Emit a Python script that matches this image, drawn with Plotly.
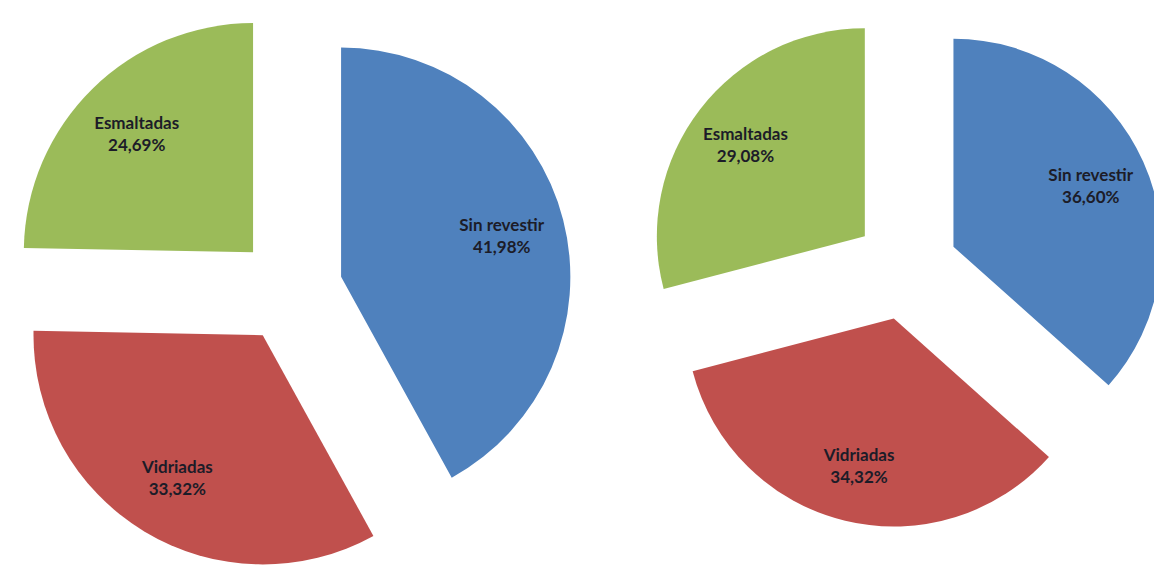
import plotly.graph_objects as go

# categories and shares (%) for the two pies
labels = ["Sin revestir", "Vidriadas", "Esmaltadas"]
left_values = [41.98, 33.32, 24.69]
right_values = [36.60, 34.32, 29.08]
colors = ["#4F81BD", "#C0504D", "#9BBB59"]


def pct(v):
    return f"{v:.2f}".replace(".", ",") + "%"


def make_text(vals):
    return [f"{lab}<br>{pct(v)}" for lab, v in zip(labels, vals)]


font = dict(family="Lato", size=17, color="#1c1c28", weight="bold")

# (values, pull, domain)
pies = [
    (left_values, 0.23, dict(x=[0, 0.4854], y=[0.0053, 1])),
    (right_values, 0.25, dict(x=[0.549, 0.9966], y=[0.083, 1])),
]

fig = go.Figure()
for vals, pull, dom in pies:
    # coloured slices
    fig.add_trace(go.Pie(
        labels=labels, values=vals, textinfo="none",
        sort=False, direction="clockwise", rotation=0, pull=pull,
        marker=dict(colors=colors, line=dict(width=0)),
        domain=dom, hoverinfo="skip",
    ))
    # transparent ring on top, only to carry the labels toward the rim
    fig.add_trace(go.Pie(
        labels=labels, values=vals, text=make_text(vals), hole=0.45,
        textinfo="text", textposition="inside", insidetextorientation="horizontal",
        sort=False, direction="clockwise", rotation=0, pull=pull,
        marker=dict(colors=["rgba(0,0,0,0)"] * 3, line=dict(width=0)),
        textfont=font, domain=dom, hoverinfo="skip",
    ))

fig.update_layout(
    width=1162, height=567,
    margin=dict(l=0, r=0, t=0, b=0),
    showlegend=False,
    paper_bgcolor="white",
    uniformtext=dict(minsize=17, mode="show"),
)
fig.write_html("out.html")
